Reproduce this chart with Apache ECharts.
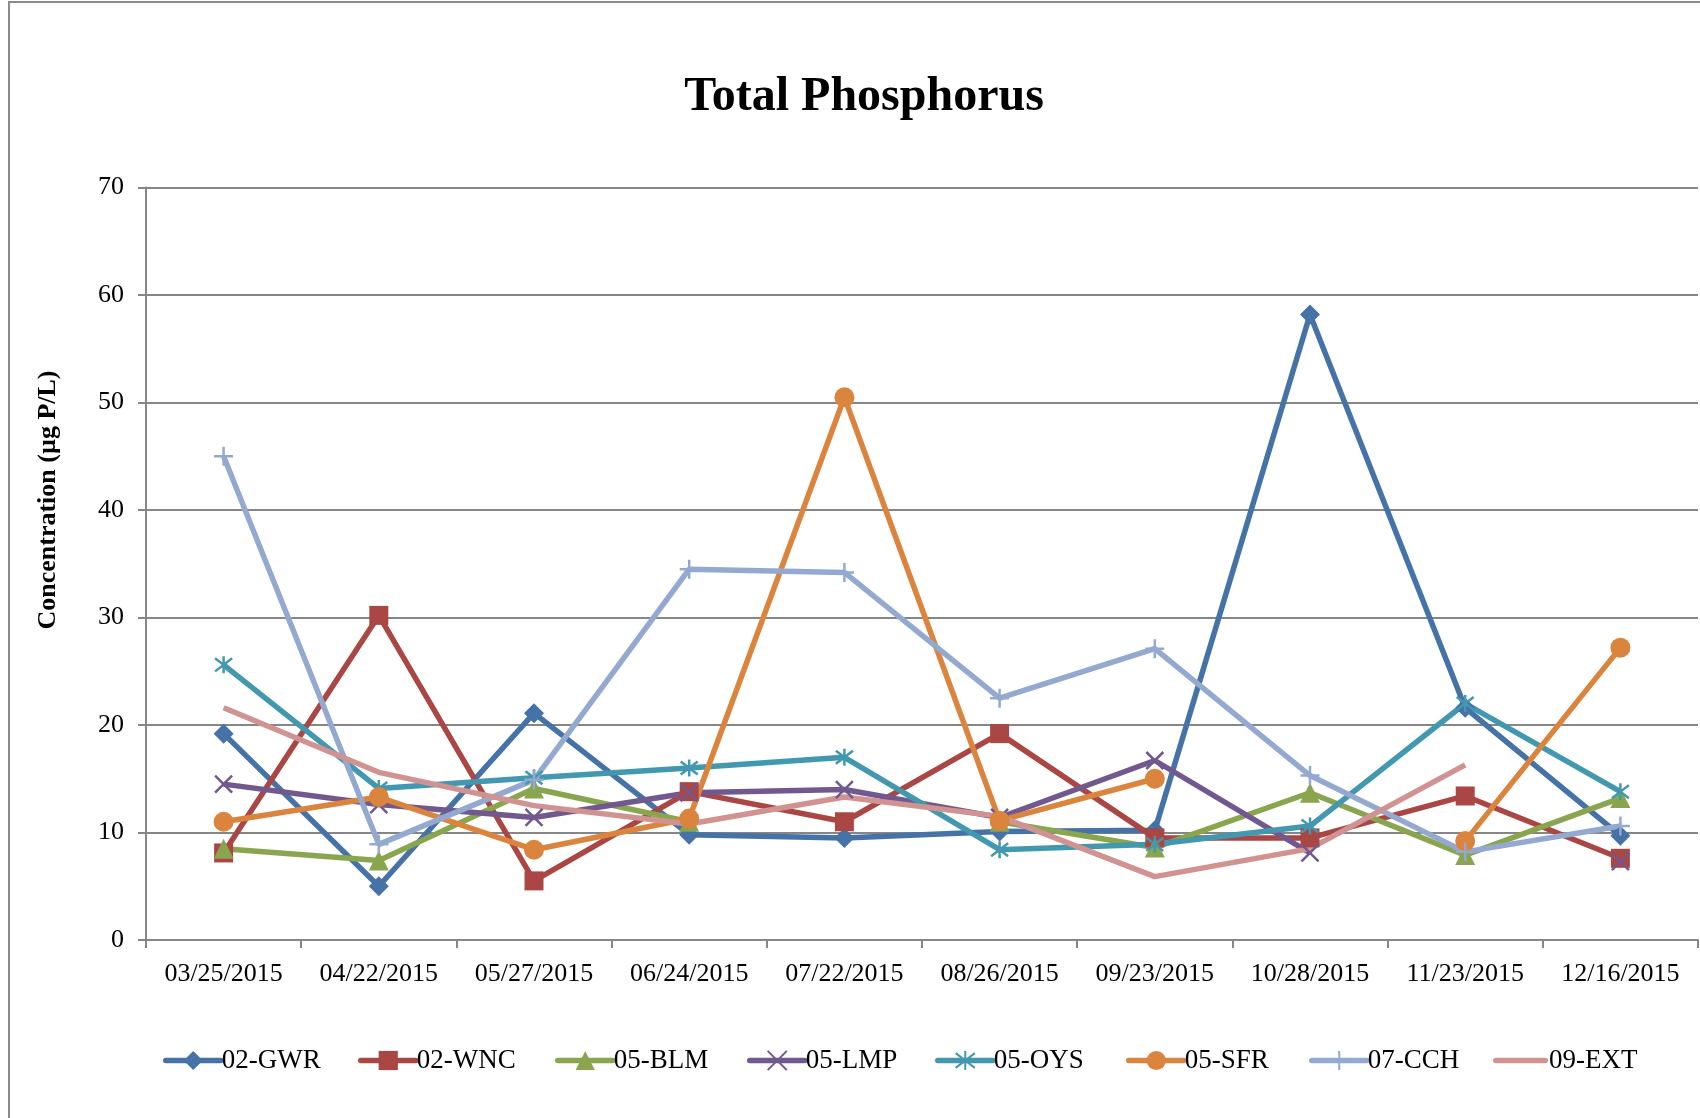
<!DOCTYPE html>
<html>
<head>
<meta charset="utf-8">
<script src="https://cdn.jsdelivr.net/npm/echarts@6/dist/echarts.min.js"></script>
<style>
  html, body { margin: 0; padding: 0; background: #fff; }
  #chart { width: 1700px; height: 1118px; }
</style>
</head>
<body>
<div id="chart"></div>
<script>
// Sampling dates
const dates = ['03/25/2015', '04/22/2015', '05/27/2015', '06/24/2015', '07/22/2015',
               '08/26/2015', '09/23/2015', '10/28/2015', '11/23/2015', '12/16/2015'];

// Total phosphorus per station (µg P/L); null = no sample
const gwr = [19.2, 5.0, 21.1, 9.8, 9.5, 10.1, 10.2, 58.2, 21.6, 9.7];
const wnc = [8.1, 30.2, 5.5, 13.8, 11.0, 19.2, 9.5, 9.5, 13.4, 7.6];
const blm = [8.5, 7.4, 14.1, 11.0, null, 11.0, 8.6, 13.7, 7.9, 13.2];
const lmp = [14.5, 12.6, 11.4, 13.7, 14.0, 11.4, 16.7, 8.1, null, 7.3];
const oys = [25.6, 14.1, 15.1, 16.0, 17.0, 8.4, 8.9, 10.6, 22.0, 13.8];
const sfr = [11.0, 13.3, 8.4, 11.3, 50.5, 11.1, 15.0, null, 9.2, 27.2];
const cch = [45.0, 8.9, 14.9, 34.5, 34.2, 22.5, 27.1, 15.3, 8.2, 10.6];
const ext = [21.6, 15.6, 12.5, 10.8, 13.3, 11.5, 5.9, 8.5, 16.3, null];

const stations = ['02-GWR', '02-WNC', '05-BLM', '05-LMP', '05-OYS', '05-SFR', '07-CCH', '09-EXT'];

const yTicks = [0, 10, 20, 30, 40, 50, 60, 70];

const FONT = "'Liberation Serif', 'Times New Roman', serif";
const LINE_W = 5.5;

// Stroke-only marker shapes
const X_MARK = 'path://M0,0L10,10M10,0L0,10';
const STAR_MARK = 'path://M0,0L10,10M10,0L0,10M5,-1.5L5,11.5';
const PLUS_MARK = 'path://M5,0L5,10M0,5L10,5';
// Legend swatch for a line without markers: a bar centred in a 55x24 box
// (the zero-area corner points only fix the box size).
const BAR_ICON = 'path://M0,0L0.01,0L0,0Z' +
                 'M2.75,9.25L52.25,9.25A2.75,2.75,0,0,1,52.25,14.75L2.75,14.75A2.75,2.75,0,0,1,2.75,9.25Z' +
                 'M55,24L54.99,24L55,24Z';

function lineSeries(name, data, color, symbol, size, stroked) {
  return {
    name: name,
    type: 'line',
    data: data,
    connectNulls: false,
    symbol: symbol,
    symbolSize: size,
    showSymbol: symbol !== 'none',
    lineStyle: { color: color, width: LINE_W },
    itemStyle: stroked
      ? { color: color, borderColor: color, borderWidth: 2.5 }
      : { color: color, borderWidth: 0 },
    emphasis: { disabled: true },
    animation: false
  };
}

// One legend block per station so each entry sits at its own x position
const legendX = [163, 358, 555, 747, 935, 1126, 1309, 1493];
const LEGEND_MID = 1059;
const legends = stations.map((name, i) => {
  const plain = (name === '09-EXT');   // line-only entry, no marker
  return {
    left: legendX[i],
    top: LEGEND_MID - 12,
    itemWidth: 55,
    itemHeight: 24,
    padding: 0,
    lineStyle: { width: LINE_W, cap: 'round' },
    textStyle: { fontFamily: FONT, fontSize: 27, color: '#000', padding: [2, 0, 0, -4] },
    data: plain ? [{ name: name, icon: BAR_ICON, itemStyle: { borderWidth: 0 } }] : [name]
  };
});

const chart = echarts.init(document.getElementById('chart'));
chart.setOption({
  backgroundColor: '#ffffff',
  animation: false,
  textStyle: { fontFamily: FONT },
  grid: { left: 146, right: 2, top: 187.6, bottom: 178 },
  graphic: [
    {
      type: 'rect',
      shape: { x: 9, y: 2, width: 1800, height: 1300 },
      style: { fill: 'none', stroke: '#8a8a8a', lineWidth: 2 },
      silent: true
    },
    {
      type: 'text',
      x: 864, y: 98,
      style: {
        text: 'Total Phosphorus',
        font: 'bold 48px ' + FONT,
        fill: '#000',
        textAlign: 'center',
        textVerticalAlign: 'middle'
      },
      silent: true
    },
    {
      type: 'text',
      x: 48, y: 500,
      rotation: Math.PI / 2,
      style: {
        text: 'Concentration (µg P/L)',
        font: 'bold 26px ' + FONT,
        fill: '#000',
        textAlign: 'center',
        textVerticalAlign: 'middle'
      },
      silent: true
    }
  ],
  legend: legends,
  xAxis: {
    type: 'category',
    data: dates,
    boundaryGap: true,
    axisLine: { show: true, lineStyle: { color: '#868686', width: 2 } },
    axisTick: { show: true, interval: 0, length: 8, lineStyle: { color: '#868686', width: 2 } },
    axisLabel: { interval: 0, margin: 21, fontSize: 26, color: '#000', fontFamily: FONT },
    splitLine: { show: false }
  },
  yAxis: {
    type: 'value',
    min: yTicks[0],
    max: yTicks[yTicks.length - 1],
    interval: 10,
    axisLine: { show: true, lineStyle: { color: '#868686', width: 2 } },
    axisTick: { show: true, length: 8, lineStyle: { color: '#868686', width: 2 } },
    axisLabel: { margin: 22, fontSize: 26, color: '#000', fontFamily: FONT },
    splitLine: { show: true, lineStyle: { color: '#868686', width: 2 } }
  },
  series: [
    lineSeries(stations[0], gwr, '#4572A7', 'diamond', 20, false),
    lineSeries(stations[1], wnc, '#AA4643', 'rect', 19, false),
    lineSeries(stations[2], blm, '#89A54E', 'triangle', 20, false),
    lineSeries(stations[3], lmp, '#71588F', X_MARK, 17, true),
    lineSeries(stations[4], oys, '#4198AF', STAR_MARK, 17, true),
    lineSeries(stations[5], sfr, '#DB843D', 'circle', 20, false),
    lineSeries(stations[6], cch, '#93A9CF', PLUS_MARK, 19, true),
    lineSeries(stations[7], ext, '#D19392', 'none', 0, false)
  ]
});
</script>
</body>
</html>
